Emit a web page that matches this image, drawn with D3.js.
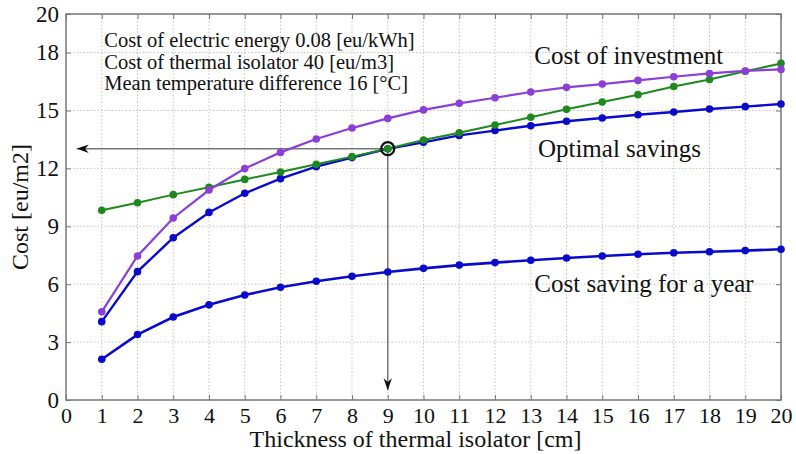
<!DOCTYPE html>
<html>
<head>
<meta charset="utf-8">
<script src="https://cdn.jsdelivr.net/npm/d3@7"></script>
<style>
  body { margin: 0; background: #fff; }
  svg text { font-family: "Liberation Serif", "Times New Roman", serif !important; }
</style>
</head>
<body>
<div id="chart-area"></div>
<script>
// thickness of isolator [cm]
const thickness = d3.range(1, 21)

// series
const investment = [4.57, 7.46, 9.43, 10.88, 11.99, 12.83, 13.52, 14.09, 14.59, 15.03,
  15.37, 15.66, 15.96, 16.20, 16.37, 16.56, 16.75, 16.92, 17.05, 17.13]
const linear = [9.83, 10.22, 10.64, 11.02, 11.43, 11.81, 12.21, 12.61, 13.02, 13.47,
  13.85, 14.25, 14.65, 15.06, 15.44, 15.82, 16.24, 16.61, 17.03, 17.44]
const optimal = [4.06, 6.65, 8.41, 9.72, 10.71, 11.47, 12.09, 12.56, 13.02, 13.35,
  13.71, 13.96, 14.21, 14.44, 14.61, 14.78, 14.92, 15.08, 15.20, 15.34]
const yearly = [2.11, 3.39, 4.30, 4.93, 5.44, 5.84, 6.15, 6.41, 6.63, 6.82,
  6.99, 7.12, 7.24, 7.36, 7.46, 7.55, 7.63, 7.68, 7.74, 7.81]

const xTicks = d3.range(0, 21)
const yTicks = [0, 3, 6, 9, 12, 15, 18, 20]
const optimum = { x: 9, y: 13.02 }

const infoLines = [
  "Cost of electric energy 0.08 [eu/kWh]",
  "Cost of thermal isolator 40 [eu/m3]",
  "Mean temperature difference 16 [\u00B0C]"
]

const W = 796, H = 454
const MARGIN = { LEFT: 66, RIGHT: 15, TOP: 14, BOTTOM: 54 }
const WIDTH = W - MARGIN.LEFT - MARGIN.RIGHT
const HEIGHT = H - MARGIN.TOP - MARGIN.BOTTOM

const svg = d3.select("#chart-area").append("svg")
  .attr("width", W)
  .attr("height", H)

const g = svg.append("g")
  .attr("transform", `translate(${MARGIN.LEFT}, ${MARGIN.TOP})`)

const x = d3.scaleLinear().domain([0, 20]).range([0, WIDTH])
const y = d3.scaleLinear().domain([0, 20]).range([HEIGHT, 0])

// grid
g.append("g").selectAll("line").data(xTicks.slice(1, -1)).join("line")
  .attr("x1", d => x(d)).attr("x2", d => x(d))
  .attr("y1", 0).attr("y2", HEIGHT)
  .attr("stroke", "#c4c4c4").attr("stroke-dasharray", "1.5,2")
g.append("g").selectAll("line").data(yTicks.slice(1, -1)).join("line")
  .attr("x1", 0).attr("x2", WIDTH)
  .attr("y1", d => y(d)).attr("y2", d => y(d))
  .attr("stroke", "#c4c4c4").attr("stroke-dasharray", "1.5,2")

// axes (ticks inward, on all four sides)
const axisStyle = size => sel => {
  sel.select(".domain").remove()
  sel.selectAll(".tick line").attr("stroke", "#777")
  sel.selectAll(".tick text").attr("font-size", size).attr("fill", "#111")
}
g.append("g").attr("transform", `translate(0, ${HEIGHT})`)
  .call(d3.axisBottom(x).tickValues(xTicks).tickSizeInner(-5).tickPadding(7).tickFormat(d3.format("d")))
  .call(axisStyle("22px"))
g.append("g")
  .call(d3.axisTop(x).tickValues(xTicks).tickSizeInner(-5).tickFormat(""))
  .call(axisStyle("22px"))
g.append("g")
  .call(d3.axisLeft(y).tickValues(yTicks).tickSizeInner(-5).tickPadding(7).tickFormat(d3.format("d")))
  .call(axisStyle("23px"))
g.append("g").attr("transform", `translate(${WIDTH}, 0)`)
  .call(d3.axisRight(y).tickValues(yTicks).tickSizeInner(-5).tickFormat(""))
  .call(axisStyle("23px"))

// frame
g.append("rect").attr("width", WIDTH).attr("height", HEIGHT)
  .attr("fill", "none").attr("stroke", "#777").attr("stroke-width", 1.5)

// arrows from the optimum
svg.append("defs").append("marker")
  .attr("id", "arrow").attr("viewBox", "0 0 10 10")
  .attr("refX", 10).attr("refY", 5)
  .attr("markerWidth", 8).attr("markerHeight", 8)
  .attr("orient", "auto-start-reverse")
  .append("path").attr("d", "M0,1.5 L10,5 L0,8.5 L3,5 Z").attr("fill", "#111")

g.append("line")
  .attr("x1", x(optimum.x)).attr("y1", y(optimum.y))
  .attr("x2", x(0.3)).attr("y2", y(optimum.y))
  .attr("stroke", "#777").attr("stroke-width", 1.5)
  .attr("marker-end", "url(#arrow)")
g.append("line")
  .attr("x1", x(optimum.x)).attr("y1", y(optimum.y))
  .attr("x2", x(optimum.x)).attr("y2", y(0.5))
  .attr("stroke", "#777").attr("stroke-width", 1.5)
  .attr("marker-end", "url(#arrow)")

// series
const series = [
  { values: yearly, color: "#0a0acc", width: 2.6 },
  { values: optimal, color: "#0a0acc", width: 2.4 },
  { values: linear, color: "#1e8a1e", width: 2 },
  { values: investment, color: "#8c3fd6", width: 2.2 }
]
const line = d3.line().x((d, i) => x(thickness[i])).y(d => y(d))

series.forEach(s => {
  g.append("path")
    .attr("d", line(s.values))
    .attr("fill", "none")
    .attr("stroke", s.color)
    .attr("stroke-width", s.width)
  g.append("g").selectAll("circle").data(s.values).join("circle")
    .attr("cx", (d, i) => x(thickness[i]))
    .attr("cy", d => y(d))
    .attr("r", 3.8)
    .attr("fill", s.color)
})

// optimum circle
g.append("circle")
  .attr("cx", x(optimum.x)).attr("cy", y(optimum.y))
  .attr("r", 6.5).attr("fill", "none")
  .attr("stroke", "#111").attr("stroke-width", 2.2)

// info text
g.append("g").selectAll("text").data(infoLines).join("text")
  .attr("x", x(1.07))
  .attr("y", (d, i) => 33 + i * 21.5)
  .attr("font-size", "20.5px")
  .attr("fill", "#111")
  .text(d => d)

// curve labels
const curveLabels = [
  { text: "Cost of investment", x: 13.1, y: 17.4 },
  { text: "Optimal savings", x: 13.2, y: 12.6 },
  { text: "Cost saving for a year", x: 13.1, y: 5.6 }
]
g.append("g").selectAll("text").data(curveLabels).join("text")
  .attr("x", d => x(d.x)).attr("y", d => y(d.y))
  .attr("font-size", "25px").attr("fill", "#111")
  .text(d => d.text)

// axis titles
svg.append("text")
  .attr("x", MARGIN.LEFT + WIDTH / 2 - 8).attr("y", 447)
  .attr("text-anchor", "middle").attr("font-size", "24px").attr("fill", "#111")
  .text("Thickness of thermal isolator [cm]")
svg.append("text")
  .attr("transform", `translate(28, ${MARGIN.TOP + HEIGHT / 2}) rotate(-90)`)
  .attr("text-anchor", "middle").attr("font-size", "24px").attr("fill", "#111")
  .text("Cost [eu/m2]")
</script>
</body>
</html>
